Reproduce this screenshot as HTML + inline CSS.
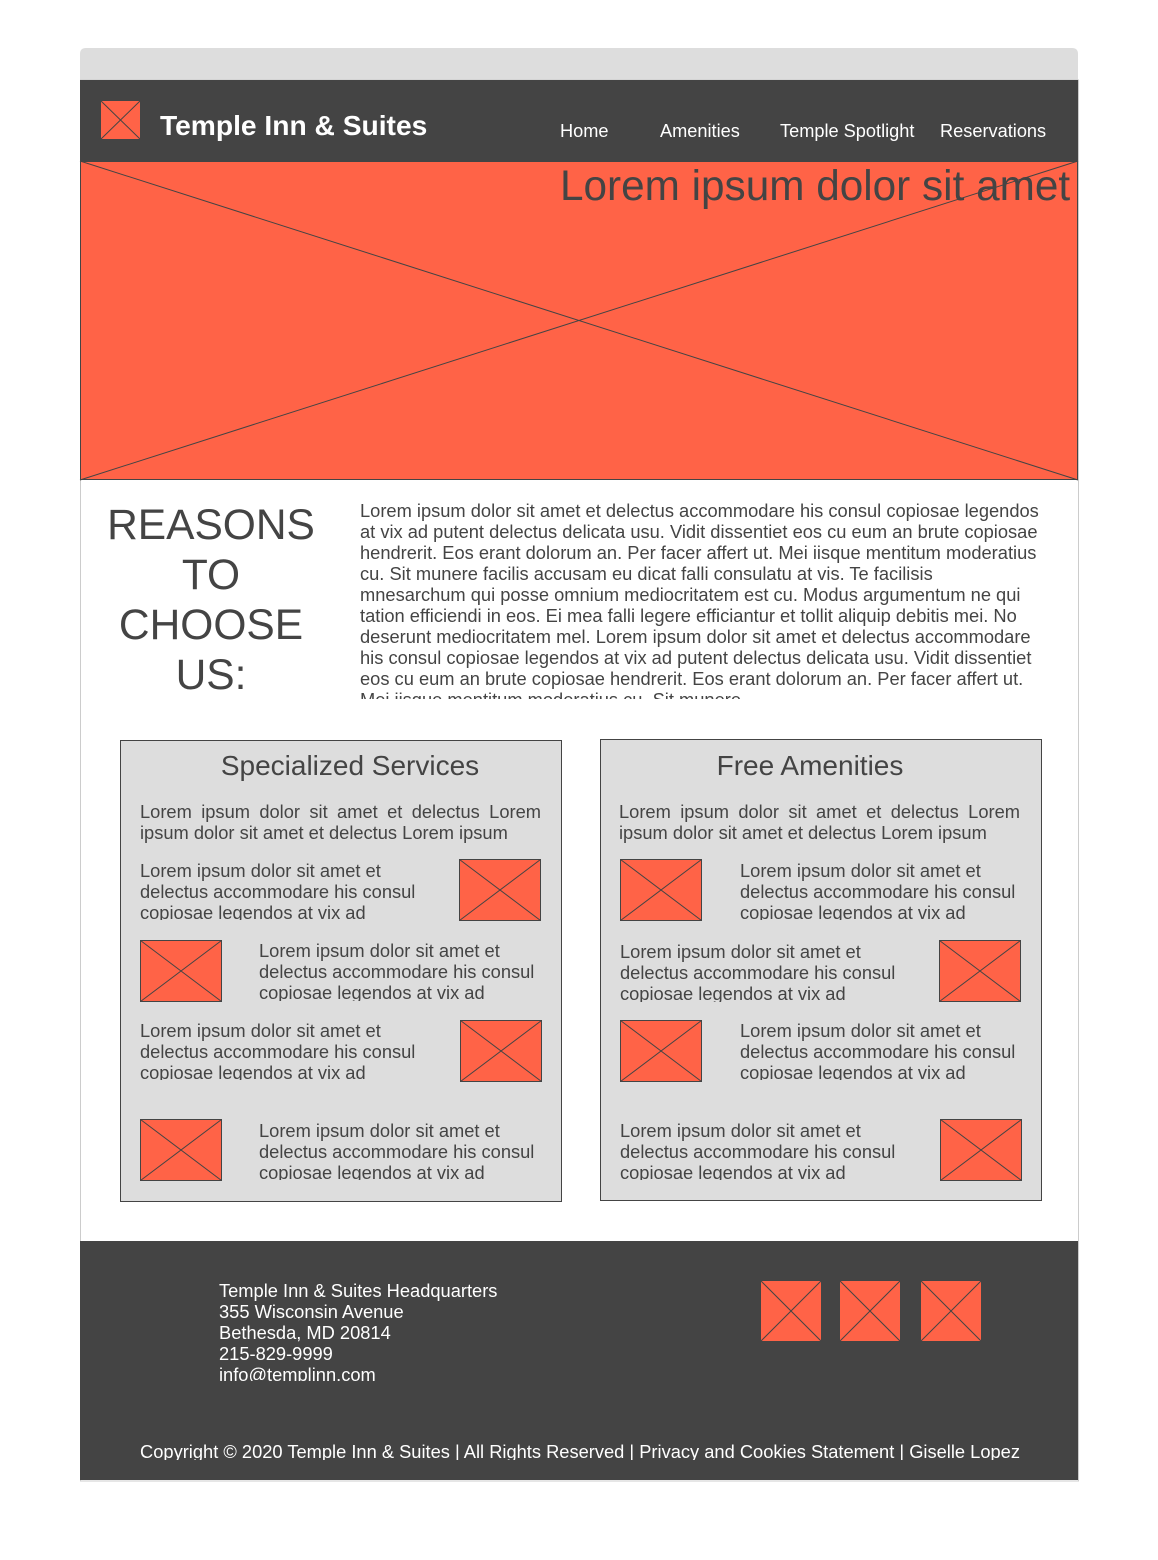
<!DOCTYPE html>
<html><head><meta charset="utf-8"><style>
*{margin:0;padding:0;box-sizing:border-box}
body{width:1158px;height:1560px;background:#fff;position:relative;overflow:hidden;font-family:"Liberation Sans",sans-serif;color:#444}
.a{position:absolute;white-space:nowrap}
.t{font-size:18.3px;line-height:21px;overflow:hidden}
.w{color:#fff}
</style></head><body>
<svg width="1158" height="1560" style="position:absolute;left:0;top:0">
<path d="M80 80 V54 Q80 48 86 48 H1072 Q1078 48 1078 54 V80 Z" fill="#dddddd"/>
<rect x="80.5" y="80" width="998" height="1401" fill="none" stroke="#ccc"/>
<rect x="80" y="80" width="998" height="81" fill="#444"/>
<rect x="80" y="1241" width="998" height="239" fill="#444"/>
<rect x="120.5" y="740.5" width="441" height="461" fill="#ddd" stroke="#444"/>
<rect x="600.5" y="739.5" width="441" height="461" fill="#ddd" stroke="#444"/>
<g stroke="#444" stroke-width="1">
<rect x="80.5" y="161.5" width="997" height="318" fill="#ff6347"/>
<line x1="80" y1="161" x2="1078" y2="480"/><line x1="80" y1="480" x2="1078" y2="161"/>
</g>
<g fill="#ff6347" stroke="#444" stroke-width="1">
<rect x="101" y="101" width="39" height="38" stroke="none"/>
<path d="M101 101 L140 139 M101 139 L140 101" fill="none"/>
<rect x="459.5" y="859.5" width="81" height="61"/><path d="M459.5 859.5 L540.5 920.5 M459.5 920.5 L540.5 859.5"/>
<rect x="140.5" y="940.5" width="81" height="61"/><path d="M140.5 940.5 L221.5 1001.5 M140.5 1001.5 L221.5 940.5"/>
<rect x="460.5" y="1020.5" width="81" height="61"/><path d="M460.5 1020.5 L541.5 1081.5 M460.5 1081.5 L541.5 1020.5"/>
<rect x="140.5" y="1119.5" width="81" height="61"/><path d="M140.5 1119.5 L221.5 1180.5 M140.5 1180.5 L221.5 1119.5"/>
<rect x="620.5" y="859.5" width="81" height="61"/><path d="M620.5 859.5 L701.5 920.5 M620.5 920.5 L701.5 859.5"/>
<rect x="939.5" y="940.5" width="81" height="61"/><path d="M939.5 940.5 L1020.5 1001.5 M939.5 1001.5 L1020.5 940.5"/>
<rect x="620.5" y="1020.5" width="81" height="61"/><path d="M620.5 1020.5 L701.5 1081.5 M620.5 1081.5 L701.5 1020.5"/>
<rect x="940.5" y="1119.5" width="81" height="61"/><path d="M940.5 1119.5 L1021.5 1180.5 M940.5 1180.5 L1021.5 1119.5"/>
<rect x="761" y="1281" width="60" height="60" stroke="none"/><path d="M761 1281 L821 1341 M761 1341 L821 1281"/>
<rect x="840" y="1281" width="60" height="60" stroke="none"/><path d="M840 1281 L900 1341 M840 1341 L900 1281"/>
<rect x="921" y="1281" width="60" height="60" stroke="none"/><path d="M921 1281 L981 1341 M921 1341 L981 1281"/>
</g>
</svg>
<div class="a w" style="left:160px;top:109px;font-size:28.2px;font-weight:bold">Temple Inn &amp; Suites</div>
<div class="a w" style="left:560px;top:121px;font-size:18.2px">Home</div>
<div class="a w" style="left:660px;top:121px;font-size:18.2px">Amenities</div>
<div class="a w" style="left:780px;top:121px;font-size:18.2px">Temple Spotlight</div>
<div class="a w" style="left:940px;top:121px;font-size:18.2px">Reservations</div>
<div class="a" style="left:560px;top:161px;font-size:42.3px;line-height:50px">Lorem ipsum dolor sit amet</div>
<div class="a" style="left:100px;width:222px;top:501px;font-size:42.5px;line-height:50px;text-align:center;white-space:normal">REASONS<br>TO<br>CHOOSE<br>US:</div>
<div class="a t" style="left:360px;top:500px;height:199px">Lorem ipsum dolor sit amet et delectus accommodare his consul copiosae legendos<br>at vix ad putent delectus delicata usu. Vidit dissentiet eos cu eum an brute copiosae<br>hendrerit. Eos erant dolorum an. Per facer affert ut. Mei iisque mentitum moderatius<br>cu. Sit munere facilis accusam eu dicat falli consulatu at vis. Te facilisis<br>mnesarchum qui posse omnium mediocritatem est cu. Modus argumentum ne qui<br>tation efficiendi in eos. Ei mea falli legere efficiantur et tollit aliquip debitis mei. No<br>deserunt mediocritatem mel. Lorem ipsum dolor sit amet et delectus accommodare<br>his consul copiosae legendos at vix ad putent delectus delicata usu. Vidit dissentiet<br>eos cu eum an brute copiosae hendrerit. Eos erant dolorum an. Per facer affert ut.<br>Mei iisque mentitum moderatius cu. Sit munere</div>

<div class="a" style="left:120px;width:460px;top:750px;font-size:28px;text-align:center">Specialized Services</div>
<div class="a" style="left:600px;width:420px;top:750px;font-size:28px;text-align:center">Free Amenities</div>
<div class="a t" style="left:140px;width:401px;top:801px;white-space:normal;text-align:justify;text-align-last:left">Lorem ipsum dolor sit amet et delectus Lorem ipsum dolor sit amet et delectus Lorem ipsum</div>
<div class="a t" style="left:619px;width:401px;top:801px;white-space:normal;text-align:justify;text-align-last:left">Lorem ipsum dolor sit amet et delectus Lorem ipsum dolor sit amet et delectus Lorem ipsum</div>

<div class="a t" style="left:140px;top:860px;height:60px">Lorem ipsum dolor sit amet et<br>delectus accommodare his consul<br>copiosae legendos at vix ad</div>
<div class="a t" style="left:259px;top:940px;height:61px">Lorem ipsum dolor sit amet et<br>delectus accommodare his consul<br>copiosae legendos at vix ad</div>
<div class="a t" style="left:140px;top:1020px;height:60px">Lorem ipsum dolor sit amet et<br>delectus accommodare his consul<br>copiosae legendos at vix ad</div>
<div class="a t" style="left:259px;top:1120px;height:60px">Lorem ipsum dolor sit amet et<br>delectus accommodare his consul<br>copiosae legendos at vix ad</div>
<div class="a t" style="left:740px;top:860px;height:60px">Lorem ipsum dolor sit amet et<br>delectus accommodare his consul<br>copiosae legendos at vix ad</div>
<div class="a t" style="left:620px;top:941px;height:61px">Lorem ipsum dolor sit amet et<br>delectus accommodare his consul<br>copiosae legendos at vix ad</div>
<div class="a t" style="left:740px;top:1020px;height:60px">Lorem ipsum dolor sit amet et<br>delectus accommodare his consul<br>copiosae legendos at vix ad</div>
<div class="a t" style="left:620px;top:1120px;height:60px">Lorem ipsum dolor sit amet et<br>delectus accommodare his consul<br>copiosae legendos at vix ad</div>

<div class="a t w" style="left:219px;top:1280px;height:101px">Temple Inn &amp; Suites Headquarters<br>355 Wisconsin Avenue<br>Bethesda, MD 20814<br>215-829-9999<br>info@templinn.com</div>
<div class="a t w" style="left:80px;width:1000px;text-align:center;top:1441px;height:19px">Copyright © 2020 Temple Inn &amp; Suites | All Rights Reserved | Privacy and Cookies Statement | Giselle Lopez</div>
</body></html>
